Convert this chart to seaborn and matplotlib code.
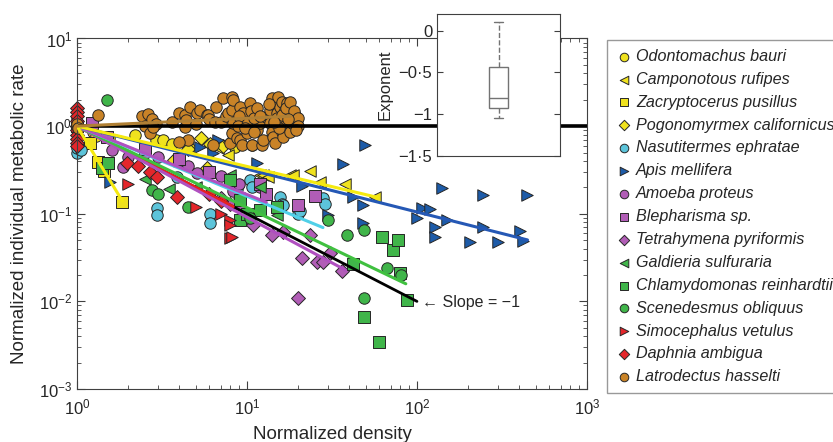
import matplotlib
matplotlib.use('Agg')
import numpy as np
import pandas as pd
import matplotlib.pyplot as plt
import seaborn as sns

## species order, style
species = ['Odontomachus bauri', 'Camponotous rufipes', 'Zacryptocerus pusillus',
           'Pogonomyrmex californicus', 'Nasutitermes ephratae', 'Apis mellifera',
           'Amoeba proteus', 'Blepharisma sp.', 'Tetrahymena pyriformis',
           'Galdieria sulfuraria', 'Chlamydomonas reinhardtii', 'Scenedesmus obliquus',
           'Simocephalus vetulus', 'Daphnia ambigua', 'Latrodectus hasselti']
markers = ['o', '<', 's', 'D', 'o', '>', 'o', 's', 'D', '<', 's', 'o', '>', 'D', 'o']
colors = ['#f0e21e', '#f0e21e', '#f0e21e', '#f0e21e', '#5cc4da', '#1d5ba8',
          '#b15db6', '#b15db6', '#b15db6', '#40b54a', '#40b54a', '#40b54a',
          '#e4262b', '#e4262b', '#c98327']

## points (normalized density, normalized metabolic rate)
odontomachus_x = [1.0, 1.25, 1.3, 1.55, 2.2, 2.9, 3.2, 3.6, 4.6, 8.5]
odontomachus_y = [0.9, 0.85, 0.78, 0.74, 0.8, 0.69, 0.69, 0.62, 0.55, 0.58]
camponotus_x = [1.0, 6.8, 7.7, 11.9, 12.4, 13.3, 17.9, 18.7, 23.5, 26.9, 37.6, 56.5]
camponotus_y = [1.0, 0.56, 0.47, 0.28, 0.28, 0.26, 0.28, 0.28, 0.31, 0.23, 0.22, 0.155]
zacryptocerus_x = [1.0, 1.2, 1.33, 1.52, 1.45, 1.84]
zacryptocerus_y = [1.0, 0.64, 0.39, 0.38, 0.31, 0.136]
pogonomyrmex_x = [1.0, 3.7, 4.5, 5.4, 5.8, 6.1, 7.2, 8.0]
pogonomyrmex_y = [1.0, 0.41, 0.55, 0.73, 0.33, 0.63, 0.6, 0.66]
nasutitermes_x = [1.0, 1.0, 1.05, 2.95, 2.95, 6.1, 6.1, 8.7, 10.4, 10.7, 15.6, 16.0,
                  16.2, 20.0, 20.5, 28.0, 28.8, 3.9]
nasutitermes_y = [0.5, 0.56, 0.53, 0.116, 0.096, 0.1, 0.079, 0.19, 0.24, 0.2, 0.155, 0.13,
                  0.126, 0.1, 0.108, 0.15, 0.13, 0.26]
apis_x = [1.56, 5.3, 6.3, 6.8, 11.4, 21, 30, 36.6, 42, 48, 48, 49.4, 100, 107, 119,
          128, 128, 140, 150, 205, 244, 244, 300, 404, 420, 445]
apis_y = [0.23, 0.58, 0.5, 0.69, 0.38, 0.21, 0.097, 0.37, 0.155, 0.127, 0.078, 0.61,
          0.089, 0.116, 0.113, 0.071, 0.054, 0.196, 0.085, 0.047, 0.163, 0.071, 0.047,
          0.064, 0.049, 0.163]
amoeba_x = [1.0, 1.6, 1.86, 2.0, 2.5, 3.0, 4.0, 4.5, 5.1, 6.0, 7.0, 8.3, 9.0, 12.0]
amoeba_y = [1.0, 0.53, 0.34, 0.45, 0.5, 0.45, 0.4, 0.35, 0.29, 0.3, 0.27, 0.18, 0.22, 0.2]
blepharisma_x = [1.22, 1.5, 2.5, 4.0, 6.0, 12.0, 13.0, 20.0, 25.0]
blepharisma_y = [1.08, 0.75, 0.55, 0.42, 0.3, 0.22, 0.17, 0.125, 0.16]
tetrahymena_x = [7.0, 8.0, 9.0, 10.9, 14.0, 16.3, 21.0, 23.5, 25.8, 28.0, 30.7, 36.0, 20.0]
tetrahymena_y = [0.15, 0.13, 0.12, 0.074, 0.057, 0.062, 0.031, 0.057, 0.028, 0.028, 0.036,
                 0.022, 0.011]
galdieria_x = [1.0, 2.5, 3.5, 5.0, 8.0, 9.0, 12.0, 15.0]
galdieria_y = [1.0, 0.25, 0.19, 0.2, 0.28, 0.15, 0.2, 0.097]
chlamydomonas_x = [1.4, 1.52, 7.9, 9.1, 9.1, 10.0, 12.0, 15.0, 42, 49, 60, 62, 72, 77, 80, 87]
chlamydomonas_y = [0.33, 0.38, 0.24, 0.143, 0.085, 0.1, 0.11, 0.12, 0.027, 0.0066, 0.0034,
                   0.054, 0.039, 0.05, 0.021, 0.0104]
scenedesmus_x = [1.5, 2.76, 3.0, 4.5, 10.4, 30.0, 38.6, 49, 49, 67, 81]
scenedesmus_y = [1.99, 0.187, 0.17, 0.12, 0.089, 0.085, 0.057, 0.065, 0.011, 0.024, 0.02]
simocephalus_x = [1.0, 2.0, 5.0, 7.0, 7.9, 7.9, 8.0, 8.2]
simocephalus_y = [1.1, 0.22, 0.12, 0.1, 0.085, 0.053, 0.075, 0.054]
daphnia_x = [1.0, 1.0, 1.0, 1.0, 1.0, 1.0, 1.0, 1.0, 1.0, 1.0, 1.97, 2.3, 2.7, 2.95,
             3.9, 6.0, 7.0]
daphnia_y = [1.6, 1.45, 1.3, 1.15, 1.0, 0.9, 0.8, 0.72, 0.65, 0.6, 0.38, 0.35, 0.3, 0.26,
             0.155, 0.17, 0.14]
latrodectus_x = [1.0, 1.0, 1.02, 1.33, 2.4, 2.5, 2.6, 2.75, 2.9, 2.7, 2.8, 3.6, 4.0, 4.3,
                 4.3, 4.4, 4.5, 4.6, 5.0, 5.1, 5.3, 5.8, 5.9, 6.0, 6.3, 6.5, 6.6, 7.0, 7.2,
                 7.5, 7.7, 7.9, 8.2, 8.2, 8.2, 8.3, 8.3, 8.7, 9.1, 9.1, 9.3, 9.5, 10.0,
                 10.4, 10.7, 10.7, 10.9, 11.4, 11.9, 12.2, 12.4, 13.0, 13.6, 13.6, 14.0,
                 14.0, 14.3, 14.6, 14.6, 15.0, 15.2, 15.6, 16.0, 16.0, 16.3, 16.3, 16.7,
                 17.2, 17.9, 17.9, 18.4, 18.4, 19.1, 19.7, 4.0,
                 9.5, 10.0, 10.5, 11.0, 9.0, 8.8, 11.5, 12.0, 9.8, 11.0,
                 13.5, 15.0, 16.0, 17.0, 18.0, 19.0, 20.0, 20.0, 15.5, 17.5, 19.5, 14.5]
latrodectus_y = [1.0, 1.05, 0.95, 1.34, 1.3, 1.0, 1.38, 1.2, 1.05, 0.83, 0.97, 1.1, 1.41,
                 1.34, 0.97, 1.17, 0.69, 1.65, 1.05, 1.41, 1.52, 1.34, 1.34, 1.2, 0.61,
                 1.11, 1.65, 1.1, 2.09, 1.3, 1.41, 0.64, 2.14, 0.83, 1.52, 1.98, 1.08,
                 0.73, 1.65, 0.69, 0.61, 1.23, 0.83, 1.83, 0.61, 0.61, 1.34, 0.9, 1.08,
                 0.61, 0.69, 1.27, 1.52, 1.08, 2.09, 0.85, 0.75, 0.64, 1.74, 1.41, 2.14,
                 1.65, 1.88, 0.85, 1.08, 0.75, 1.52, 1.83, 1.34, 0.85, 1.08, 1.17, 1.34,
                 1.17, 0.66,
                 1.4, 1.1, 1.5, 1.25, 1.3, 1.0, 1.6, 1.3, 0.95, 0.85,
                 1.8, 1.25, 1.35, 1.6, 1.9, 1.5, 1.25, 1.0, 0.95, 1.2, 0.9, 1.1]

xs = [odontomachus_x, camponotus_x, zacryptocerus_x, pogonomyrmex_x, nasutitermes_x, apis_x,
      amoeba_x, blepharisma_x, tetrahymena_x, galdieria_x, chlamydomonas_x, scenedesmus_x,
      simocephalus_x, daphnia_x, latrodectus_x]
ys = [odontomachus_y, camponotus_y, zacryptocerus_y, pogonomyrmex_y, nasutitermes_y, apis_y,
      amoeba_y, blepharisma_y, tetrahymena_y, galdieria_y, chlamydomonas_y, scenedesmus_y,
      simocephalus_y, daphnia_y, latrodectus_y]

## fitted power laws y = x^slope
fit_species = ['Simocephalus vetulus', 'Tetrahymena pyriformis', 'Scenedesmus obliquus',
               'Nasutitermes ephratae', 'Blepharisma sp.', 'Apis mellifera',
               'Camponotous rufipes', 'Zacryptocerus pusillus', 'Latrodectus hasselti']
fit_slope = [-1.0, -1.04, -0.93, -0.80, -0.78, -0.49, -0.46, -3.2, 0.09]
fit_xmax = [8.3, 38, 86, 28, 13, 447, 59, 1.85, 18]
fit_colors = ['#e82020', '#b050c0', '#40c040', '#50d0e8', '#b050c0', '#2558b5',
              '#f5ea10', '#f5ea10', '#b08035']

## exponents for inset
exponents = [-1.04, -1.03, -0.98, -0.94, -0.92, -0.88, -0.82, -0.80, -0.78, -0.62,
             -0.46, -0.42, -0.30, -0.05, 0.10]

rows = []
for name, x, y in zip(species, xs, ys):
    for a, b in zip(x, y):
        rows.append((name, a, b))
df = pd.DataFrame(rows, columns=['species', 'density', 'rate'])

sns.set_style('ticks')
plt.rcParams['font.family'] = ['Liberation Sans', 'DejaVu Sans']
plt.rcParams['mathtext.fontset'] = 'custom'
plt.rcParams['mathtext.rm'] = 'Liberation Sans'
plt.rcParams['mathtext.it'] = 'Liberation Sans:italic'

fig = plt.figure(figsize=(8.33, 4.42), dpi=100)
ax = fig.add_axes([0.0924, 0.1199, 0.6122, 0.793])

for name, m, c in zip(species, markers, colors):
    sub = df[df['species'] == name]
    sns.scatterplot(data=sub, x='density', y='rate', marker=m, color=c, s=68 if m != 'D' else 50,
                    edgecolor='0.15', linewidth=0.7, ax=ax, label=name, clip_on=False, zorder=2)

# reference lines
ax.plot([1, 1000], [1, 1], color='black', lw=2.6, zorder=3)
ax.plot([1, 100], [1, 0.01], color='black', lw=2.0, zorder=3)
for name, sl, xm, c in zip(fit_species, fit_slope, fit_xmax, fit_colors):
    xx = np.array([1.0, xm])
    ax.plot(xx, xx ** sl, color=c, lw=2.2, zorder=3)

ax.text(107, 0.0098, '\u2190 Slope = \u22121', va='center', ha='left', fontsize=11.5)

ax.set_xscale('log')
ax.set_yscale('log')
ax.set_xlim(1, 1000)
ax.set_ylim(1e-3, 10)
ax.tick_params(which='both', direction='in', top=True, right=True, labelsize=12, color='0.25')
ax.tick_params(which='major', length=6)
ax.tick_params(which='minor', length=3)
ax.tick_params(axis='x', pad=6)
for sp in ax.spines.values():
    sp.set_color('0.25')
ax.set_xlabel('Normalized density', fontsize=13.5, labelpad=6)
ax.set_ylabel('Normalized individual metabolic rate', fontsize=13.5, labelpad=8)

handles, labels = ax.get_legend_handles_labels()
ax.legend_.remove()
fig.legend(handles, labels, loc='upper left', bbox_to_anchor=(0.7287, 0.9095),
           frameon=True, fancybox=False, edgecolor='0.5', prop={'style': 'italic', 'size': 11.6},
           labelspacing=0.49, handletextpad=0.25, borderpad=0.55, handlelength=1.0,
           markerscale=0.75, borderaxespad=0)

## inset boxplot
axin = fig.add_axes([0.5246, 0.6471, 0.1477, 0.3213])
sns.boxplot(y=exponents, ax=axin, width=0.155, color='white', linecolor='0.45', linewidth=1,
            showfliers=False, whiskerprops={'linestyle': '--'})
axin.set_ylim(-1.5, 0.2)
axin.set_xlim(-0.5, 0.5)
axin.set_yticks([0, -0.5, -1, -1.5])
axin.set_yticklabels(['0', '\u22120\u00b75', '\u22121', '\u22121\u00b75'])
axin.set_xticks([])
axin.set_ylabel('Exponent', fontsize=12)
axin.tick_params(direction='in', right=True, labelsize=12, length=4, color='0.25')
for sp in axin.spines.values():
    sp.set_color('0.25')
    sp.set_visible(True)

fig.savefig('out.png', dpi=100)
